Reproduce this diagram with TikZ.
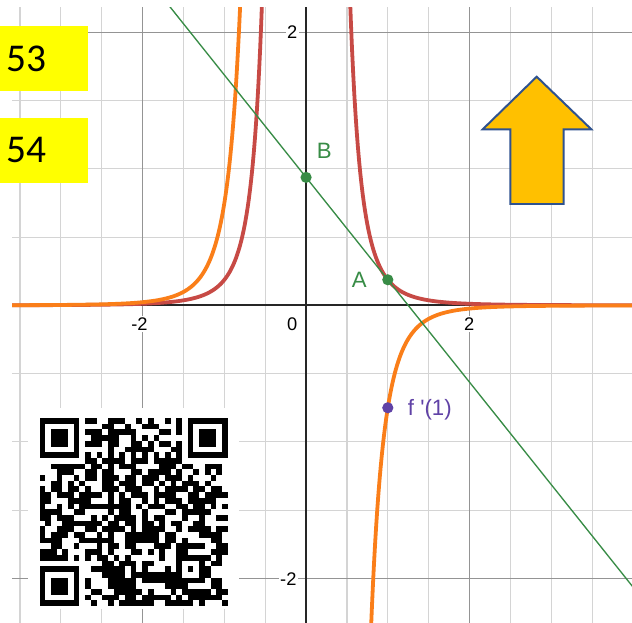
\documentclass[tikz,border=0pt]{standalone}
\usepackage{fontspec}
\setmainfont{Liberation Sans}
\newfontfamily\boxfont{Carlito}
\definecolor{dred}{HTML}{C74A45}
\definecolor{dorange}{HTML}{FA7E19}
\definecolor{dgreen}{HTML}{388C46}
\definecolor{dpurple}{HTML}{6042A6}
\definecolor{arrowfill}{HTML}{FFC000}
\definecolor{arrowline}{HTML}{2F528F}
\definecolor{boxyellow}{HTML}{FFFF00}
\tikzset{
  minorgrid/.style={draw=black!17, line width=0.8pt},
  majorgrid/.style={draw=black!42, line width=1.1pt},
  axisline/.style={draw=black!85, line width=1.5pt},
  curvered/.style={draw=dred, line width=2.7pt, line join=round},
  curveorange/.style={draw=dorange, line width=2.7pt, line join=round},
  tangentline/.style={draw=dgreen, line width=0.95pt},
  dotgreen/.style={circle, fill=dgreen, inner sep=0pt, minimum size=0.28cm},
  dotpurple/.style={circle, fill=dpurple, inner sep=0pt, minimum size=0.28cm},
  ticklabel/.style={fill=white, inner sep=1pt, font=\fontsize{13}{15}\selectfont},
  ptlabel/.style={inner sep=0pt, font=\fontsize{15.8}{18}\selectfont},
  numbox/.style={fill=boxyellow},
  numtext/.style={inner sep=0pt, anchor=west, font=\boxfont\fontsize{28}{32}\selectfont},
  uparrow/.style={fill=arrowfill, draw=arrowline, line width=1.4pt, line join=miter},
  qrmod/.style={fill=black},
}
\begin{document}
\begin{tikzpicture}[x=0.025cm, y=-0.025cm]
\useasboundingbox (0,0) rectangle (632,623);
\fill[white] (0,0) rectangle (632,623);
% ---------- graph ----------
\begin{scope}[shift={(7.65cm,-7.6325cm)}, x=2.0425cm, y=3.4125cm]
  \clip (-3.5985,-2.3275) rectangle (3.99,2.1853);
  \foreach \gx in {-3.5,-3,...,3.5} \draw[minorgrid] (\gx,-2.4) -- (\gx,2.3);
  \foreach \gy in {-2,-1.5,...,2} \draw[minorgrid] (-3.7,\gy) -- (4.1,\gy);
  \foreach \gx in {-2,2} \draw[majorgrid] (\gx,-2.4) -- (\gx,2.3);
  \foreach \gy in {-2,2} \draw[majorgrid] (-3.7,\gy) -- (4.1,\gy);
  \draw[axisline] (-3.7,0) -- (4.1,0);
  \draw[axisline] (0,-2.4) -- (0,2.3);
  \draw[curvered] plot[domain=-3.7:-0.52, samples=250] (\x,{0.1875/(\x*\x*\x*\x)});
  \draw[curvered] plot[domain=0.52:4.1, samples=250] (\x,{0.1875/(\x*\x*\x*\x)});
  \draw[curveorange] plot[domain=-3.7:-0.785, samples=250] (\x,{-0.75/(\x*\x*\x*\x*\x)});
  \draw[curveorange] plot[domain=0.765:4.1, samples=250] (\x,{-0.75/(\x*\x*\x*\x*\x)});
  \coordinate (tA) at (-1.8,2.2875);
  \coordinate (tB) at (4.1,-2.1375);
  \draw[tangentline] (tA) -- (tB);
  \node[dotgreen] (ptB) at (0,0.9375) {};
  \node[dotgreen] (ptA) at (1,0.1875) {};
  \node[dotpurple] (ptF) at (1,-0.75) {};
\end{scope}
% ---------- tick labels ----------
\node[ticklabel] (tkxm2) at (139.5,324) {-2};
\node[ticklabel] (tkx0) at (292.3,324) {0};
\node[ticklabel] (tkx2) at (469.3,324) {2};
\node[ticklabel] (tky2) at (292.3,32.5) {2};
\node[ticklabel] (tkym2) at (288.3,578.8) {-2};
% ---------- point labels ----------
\node[ptlabel, text=dgreen] (labB) at (324.3,151.3) {B};
\node[ptlabel, text=dgreen] (labA) at (359.3,279.5) {A};
\node[ptlabel, text=dpurple, anchor=west] (labF) at (407.7,409.5) {f \textquotesingle(1)};
% ---------- yellow boxes ----------
\fill[numbox] (0,26) rectangle (87.7,90.7);
\fill[numbox] (0,117.7) rectangle (87.7,182.7);
\node[numtext] (n53) at (6,59.2) {53};
\node[numtext] (n54) at (6,150.2) {54};
% ---------- up arrow ----------
\draw[uparrow] (536.7,76.7) -- (591.3,129.3) -- (563.7,129.3) -- (563.7,204)
  -- (510.3,204) -- (510.3,129.3) -- (482.7,129.3) -- cycle;
% ---------- QR code ----------
\fill[white] (28.3,407.7) rectangle (238.7,609);
\def\qrm{5.7}
\pgfmathsetseed{7}
\foreach \i in {0,...,32}{
  \foreach \j in {0,...,32}{
    \pgfmathtruncatemacro\qrres{(((\i<8)&&(\j<8))||((\i>24)&&(\j<8))||((\i<8)&&(\j>24))||((\i>23)&&(\i<29)&&(\j>23)&&(\j<29))||(\i==6)||(\j==6)) ? 0 : (rnd<0.56)}
    \ifnum\qrres=1 \fill[qrmod] (39.5+\i*\qrm,418+\j*\qrm) rectangle ++(5.75,5.75);\fi
  }
}
\foreach \k in {8,10,...,24}{
  \fill[qrmod] (39.5+\k*\qrm,418+6*\qrm) rectangle ++(5.75,5.75);
  \fill[qrmod] (39.5+6*\qrm,418+\k*\qrm) rectangle ++(5.75,5.75);
}
\foreach \fx/\fy in {0/0,26/0,0/26}{
  \fill[qrmod] (39.5+\fx*\qrm,418+\fy*\qrm) rectangle ++(7*\qrm,7*\qrm);
  \fill[white] (39.5+\fx*\qrm+\qrm,418+\fy*\qrm+\qrm) rectangle ++(5*\qrm,5*\qrm);
  \fill[qrmod] (39.5+\fx*\qrm+2*\qrm,418+\fy*\qrm+2*\qrm) rectangle ++(3*\qrm,3*\qrm);
}
\fill[qrmod] (39.5+24*\qrm,418+24*\qrm) rectangle ++(5*\qrm,5*\qrm);
\fill[white] (39.5+25*\qrm,418+25*\qrm) rectangle ++(3*\qrm,3*\qrm);
\fill[qrmod] (39.5+26*\qrm,418+26*\qrm) rectangle ++(\qrm,\qrm);
\end{tikzpicture}
\end{document}
